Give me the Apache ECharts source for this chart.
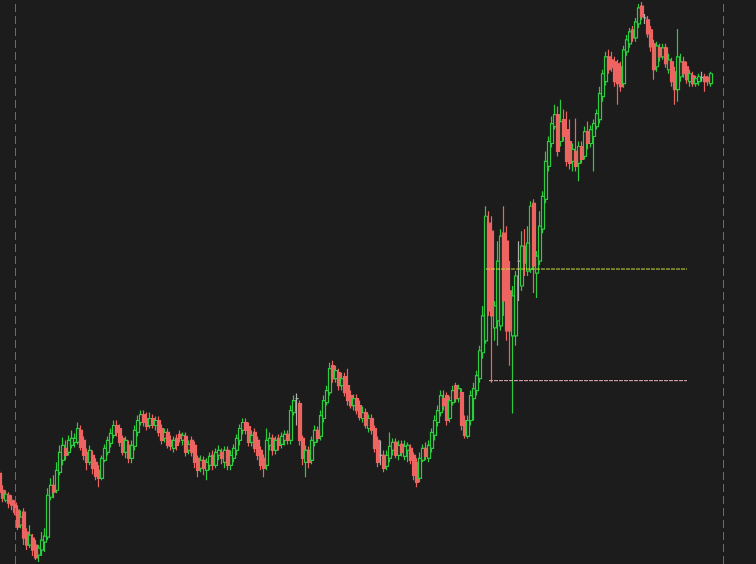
<!DOCTYPE html>
<html>
<head>
<meta charset="utf-8">
<script src="https://cdn.jsdelivr.net/npm/echarts@6/dist/echarts.min.js"></script>
<style>
html,body{margin:0;padding:0;background:#1c1c1c;}
#chart{width:756px;height:564px;}
</style>
</head>
<body>
<div id="chart"></div>
<script>
const openVals = [
91,74,64,69,64,61,54,39,52,32,
19,26,19,9,14,22,27,67,79,74,
92,104,116,112,119,122,122,134,124,112,
102,109,102,94,86,104,112,121,129,139,
136,126,112,119,106,118,132,142,150,146,
139,146,139,144,136,126,132,124,116,126,
130,124,128,114,124,119,106,96,104,94,
99,109,99,109,112,102,114,99,106,114,
124,134,142,138,122,132,124,114,106,99,
119,126,114,126,120,124,130,124,152,166,
161,126,102,114,104,122,134,128,146,162,
172,199,186,192,179,188,179,169,159,166,
159,146,152,136,146,136,124,109,109,98,
106,114,122,109,120,108,114,116,109,102,
86,104,116,106,116,129,142,152,166,169,
146,162,179,166,172,144,128,144,166,174,
186,212,224,342,334,237,244,239,332,324,
274,229,229,304,279,319,294,296,362,292,
304,336,366,399,422,439,451,424,446,436,
424,404,414,402,419,409,434,422,429,439,
446,469,484,509,506,504,502,499,482,514,
522,536,528,542,560,548,546,536,522,499,
518,509,518,496,504,494,476,489,504,499,
484,490,482,484,488,489,488,482
];
const closeVals = [
72,66,70,61,59,52,37,47,26,19,
29,14,6,16,24,28,69,79,72,94,
112,119,109,124,126,126,136,117,109,102,
114,96,88,86,106,116,124,131,139,132,
122,112,124,106,119,134,144,150,142,138,
146,139,144,132,124,132,119,118,124,119,
126,129,112,120,112,102,94,104,96,102,
108,99,112,114,106,114,99,109,116,126,
136,142,134,122,129,116,109,99,96,124,
126,114,124,119,128,130,124,154,164,166,
124,106,114,102,124,134,126,149,164,174,
196,186,194,179,186,172,164,159,166,154,
147,152,139,146,134,116,102,109,96,109,
118,122,109,119,112,118,119,104,89,82,
106,116,108,119,132,144,154,169,159,144,
164,174,166,176,139,129,144,169,176,189,
214,249,349,254,249,259,304,329,264,234,
234,269,289,304,319,302,322,359,299,309,
339,369,404,424,442,451,414,444,429,404,
402,416,399,419,406,434,422,436,442,452,
472,492,509,496,498,484,482,479,516,526,
534,528,544,558,549,548,532,519,496,520,
509,518,502,506,484,476,509,504,492,486,
492,482,487,489,488,484,484,492
];
const lowVals = [
69,62,62,56,54,49,34,36,19,14,
16,8,4,2,8,12,24,64,66,71,
89,99,104,109,116,117,120,114,104,94,
99,90,84,77,84,102,109,117,126,128,
118,109,106,101,101,114,128,139,138,134,
136,136,134,128,120,122,116,114,112,114,
122,119,108,110,108,96,87,92,89,84,
94,94,96,104,100,96,94,94,102,109,
119,130,130,118,118,112,104,94,87,94,
114,109,110,114,116,119,120,120,149,139,
119,99,87,96,100,118,122,124,142,159,
169,182,182,174,174,168,159,156,154,150,
144,142,136,132,130,112,97,99,92,94,
102,109,106,104,108,104,102,100,84,77,
82,102,104,102,112,124,138,148,154,139,
142,159,162,162,134,126,126,139,144,169,
182,206,221,249,182,224,219,234,249,224,
199,151,219,264,274,289,289,292,272,267,
300,332,362,394,418,436,409,419,424,399,
396,394,394,384,402,406,416,418,394,436,
442,464,480,492,494,479,461,474,478,510,
518,524,524,538,546,542,528,514,486,494,
504,506,498,492,479,461,464,484,488,482,
479,479,479,480,484,474,480,479
];
const highVals = [
94,79,74,72,69,64,59,54,56,36,
39,30,24,19,32,36,76,86,89,102,
119,127,124,129,134,131,142,139,128,116,
119,114,106,99,109,120,128,136,144,144,
140,129,128,124,124,139,149,154,154,152,
152,150,148,148,140,136,136,129,128,130,
134,132,132,124,128,123,109,109,108,106,
112,114,116,119,116,118,118,114,120,130,
140,146,146,142,134,136,128,118,110,136,
132,130,128,130,132,134,134,159,169,171,
164,129,119,118,128,139,138,154,169,179,
202,204,199,196,192,192,196,174,170,170,
164,158,156,150,150,139,128,124,114,114,
132,126,126,124,124,124,122,120,112,106,
112,120,122,124,136,149,159,174,174,172,
168,179,182,180,176,149,149,174,182,194,
219,259,359,354,349,264,324,336,359,339,
304,279,294,324,334,336,339,364,366,314,
354,374,414,429,449,461,459,466,456,454,
446,422,447,424,424,439,444,440,446,456,
479,496,514,516,514,509,506,504,520,531,
538,540,548,562,564,552,550,540,526,524,
522,522,522,512,508,499,537,512,509,504,
496,494,490,492,494,492,490,494
];
// session separators (slot index) and horizontal levels [value, fromSlot, toSlot]
const sessionBreaks = [5, 241];
const levelYellow = [296, 162, 229];
const levelPink = [184, 163, 229];
const slotCount = 243;

const categories = [];
for (let i = 0; i < slotCount; i++) categories.push('T' + i);
const ohlc = openVals.map((o, i) => [o, closeVals[i], lowVals[i], highVals[i]]);
const levelData = (lv) => [[categories[lv[1]], lv[0]], [categories[lv[2]], lv[0]]];

const sepStyle = {color: '#6a6a6a', type: [8, 4], width: 1, opacity: 1};

const chart = echarts.init(document.getElementById('chart'), null, {renderer: 'canvas'});
chart.setOption({
  backgroundColor: '#1c1c1c',
  animation: false,
  grid: {left: 0, right: 30, top: 0, bottom: 0},
  xAxis: {
    type: 'category', data: categories, boundaryGap: false,
    axisLine: {show: false}, axisTick: {show: false}, axisLabel: {show: false}, splitLine: {show: false}
  },
  yAxis: {
    type: 'value', min: 0, max: 566, scale: false,
    axisLine: {show: false}, axisTick: {show: false}, axisLabel: {show: false}, splitLine: {show: false}
  },
  series: [{
    type: 'candlestick',
    data: ohlc,
    barWidth: 4,
    itemStyle: {
      color: 'rgba(0,0,0,0)',
      color0: '#ee6461',
      borderColor: '#2bcc3e',
      borderColor0: '#ee6461',
      borderColorDoji: '#b0b0b0',
      borderWidth: 1.2
    },
    markLine: {
      silent: true, symbol: 'none', animation: false,
      label: {show: false},
      data: [
        {xAxis: categories[sessionBreaks[0]], lineStyle: sepStyle},
        {xAxis: categories[sessionBreaks[1]], lineStyle: sepStyle}
      ]
    }
  }, {
    type: 'line', data: levelData(levelYellow), symbol: 'none', silent: true, z: 5,
    lineStyle: {color: '#d0dc34', width: 1, type: [4, 1]}
  }, {
    type: 'line', data: levelData(levelPink), symbol: 'none', silent: true, z: 5,
    lineStyle: {color: '#e3aeb6', width: 1, type: [4, 1]}
  }]
});
</script>
</body>
</html>
